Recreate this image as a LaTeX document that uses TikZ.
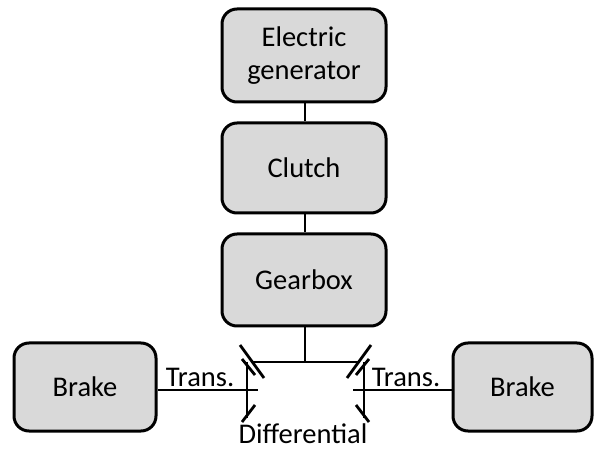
\documentclass[tikz,border=0pt]{standalone}
\usepackage{fontspec}
\setmainfont{Carlito}
\begin{document}
\begin{tikzpicture}[x=1pt,y=-1pt,
  blk/.style={draw=black,line width=3pt,fill=boxgray,rounded corners=15pt,
    align=center,inner sep=0pt,font=\fontsize{28.5}{33}\selectfont},
  lnk/.style={line width=2.8pt},
  lbl/.style={font=\fontsize{28.5}{33}\selectfont,anchor=base,inner sep=0pt}]
\definecolor{boxgray}{RGB}{217,217,217}
\useasboundingbox (0,0) rectangle (595,457);
% boxes
\node[blk,minimum width=164pt,minimum height=93pt] (gen) at (304,55.5) {Electric\\generator};
\node[blk,minimum width=164pt,minimum height=90pt] (clu) at (304,168) {Clutch};
\node[blk,minimum width=164pt,minimum height=92pt] (gbx) at (304,280) {Gearbox};
\node[blk,minimum width=142pt,minimum height=88pt] (bl) at (85,387) {Brake};
\node[blk,minimum width=139pt,minimum height=88pt] (br) at (522.5,387) {Brake};
% vertical links
\draw[lnk] (gen.south -| 305,0) -- (clu.north -| 305,0);
\draw[lnk] (clu.south -| 305,0) -- (gbx.north -| 305,0);
% differential
\coordinate (dtop) at (305,362);
\draw[lnk] (gbx.south -| dtop) -- (dtop);
\coordinate (hl) at (252,362);
\coordinate (hr) at (359,362);
\draw[lnk] (hl) -- (hr);
% left gear
\draw[lnk] (240,345) -- (264,378);
\draw[lnk] (242,359) -- (255,375);
\draw[lnk] (247,362) -- (247,418);
\draw[lnk] (242,422) -- (255,405);
% right gear
\draw[lnk] (371,345) -- (347,378);
\draw[lnk] (369,359) -- (356,375);
\draw[lnk] (364,362) -- (364,418);
\draw[lnk] (369,422) -- (356,405);
% shafts
\coordinate (sl) at (258,390);
\coordinate (sr) at (353,390);
\draw[lnk] (bl.east |- sl) -- (sl);
\draw[lnk] (sr) -- (br.west |- sr);
% labels
\node[lbl] (tl) at (200,387) {Trans.};
\node[lbl] (tr) at (406,387) {Trans.};
\node[lbl] (dif) at (303,443) {Differential};
\end{tikzpicture}
\end{document}
